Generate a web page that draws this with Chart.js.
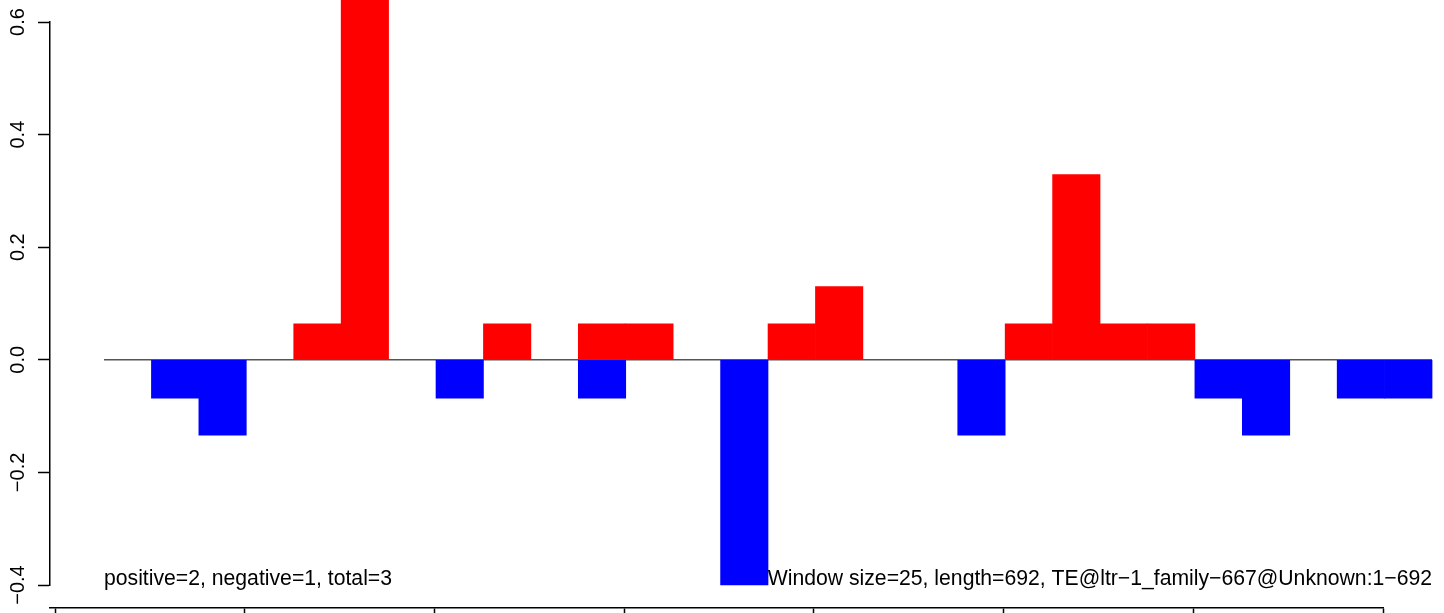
<!DOCTYPE html>
<html>
<head>
<meta charset="utf-8">
<script src="https://cdn.jsdelivr.net/npm/chart.js@4"></script>
<style>
  html, body { margin: 0; padding: 0; background: #fff; overflow: hidden; }
  #wrap { width: 1444px; height: 613px; position: relative; }
</style>
</head>
<body>
<div id="wrap"><canvas id="c"></canvas></div>
<script>
// ---- data ----
const windowIndex = [0,1,2,3,4,5,6,7,8,9,10,11,12,13,14,15,16,17,18,19,20,21,22,23,24,25,26,27];
const positiveValues = [null,null,null,null,0.064,0.667,null,null,0.064,null,0.064,0.064,null,null,0.064,0.13,null,null,null,0.064,0.329,0.064,0.064,null,null,null,null,null];
const negativeValues = [null,-0.068,-0.134,null,null,null,null,-0.068,null,null,-0.068,null,null,-0.4,null,null,null,null,-0.134,null,null,null,null,-0.068,-0.134,null,-0.068,-0.068];
const yTicks = [-0.4, -0.2, 0.0, 0.2, 0.4, 0.6];
const positionTicks = [0, 100, 200, 300, 400, 500, 600, 700];
const leftNote = 'positive=2, negative=1, total=3';
const rightNote = 'Window size=25, length=692, TE@ltr\u22121_family\u2212667@Unknown:1\u2212692';

const FONT = '"Liberation Sans", Arial, Helvetica, sans-serif';

const notesPlugin = {
  id: 'notes',
  afterDatasetsDraw(chart) {
    const ctx = chart.ctx;
    const xs = chart.scales.x, ys = chart.scales.y;
    const yPix = ys.getPixelForValue(yTicks[0]);
    ctx.save();
    ctx.fillStyle = '#000';
    ctx.font = '21.2px ' + FONT;
    ctx.textBaseline = 'alphabetic';
    ctx.textAlign = 'left';
    ctx.fillText(leftNote, xs.getPixelForValue(windowIndex[0] - 0.5), yPix);
    ctx.textAlign = 'right';
    ctx.fillText(rightNote, xs.getPixelForValue(windowIndex[windowIndex.length - 1] + 0.5), yPix);
    ctx.restore();
  }
};

const toPts = arr => arr.map((v, i) => ({ x: windowIndex[i], y: v }));

new Chart(document.getElementById('c'), {
  type: 'bar',
  data: {
    datasets: [
      {
        label: 'negative',
        data: toPts(negativeValues),
        backgroundColor: '#0000FF',
        borderWidth: 0,
        barPercentage: 1,
        categoryPercentage: 1,
        clip: false,
        order: 1
      },
      {
        label: 'positive',
        data: toPts(positiveValues),
        backgroundColor: '#FF0000',
        borderWidth: 0,
        barPercentage: 1,
        categoryPercentage: 1,
        clip: false,
        order: 2
      },
      {
        type: 'line',
        label: 'baseline',
        data: [
          { x: windowIndex[0] - 0.5, y: 0 },
          { x: windowIndex[windowIndex.length - 1] + 0.5, y: 0 }
        ],
        borderColor: '#555555',
        borderWidth: 1.5,
        pointRadius: 0,
        fill: false,
        clip: false,
        order: 3
      }
    ]
  },
  options: {
    responsive: true,
    maintainAspectRatio: false,
    animation: false,
    devicePixelRatio: 1,
    layout: { padding: { left: 0, right: 61, top: 22, bottom: 28 } },
    plugins: { legend: { display: false }, tooltip: { enabled: false } },
    scales: {
      x: {
        type: 'linear',
        display: false,
        stacked: true,
        offset: false,
        grid: { offset: false },
        min: -1.6386,
        max: 26.466
      },
      x2: {
        type: 'linear',
        position: { y: -0.4403 },
        offset: false,
        min: -2.636,
        max: 700,
        afterBuildTicks: s => { s.ticks = positionTicks.map(v => ({ value: v })); },
        ticks: { display: false },
        grid: { offset: false, drawOnChartArea: false, drawTicks: true, tickLength: 12, tickColor: '#000', tickWidth: 1.5 },
        border: { display: true, color: '#000', width: 1.5 }
      },
      y: {
        type: 'linear',
        position: 'left',
        stacked: true,
        min: -0.4,
        max: 0.6,
        afterBuildTicks: s => { s.ticks = yTicks.map(v => ({ value: v })); },
        afterFit: s => { s.width = 50; },
        ticks: {
          minRotation: 90,
          maxRotation: 90,
          crossAlign: 'center',
          padding: 0,
          color: '#000',
          font: { family: FONT, size: 20 },
          callback: v => Number(v).toFixed(1).replace('-', '\u2212')
        },
        grid: { drawOnChartArea: false, drawTicks: true, tickLength: 12, tickColor: '#000', tickWidth: 1.5 },
        border: { display: true, color: '#000', width: 1.5 }
      }
    }
  },
  plugins: [notesPlugin]
});
</script>
</body>
</html>
